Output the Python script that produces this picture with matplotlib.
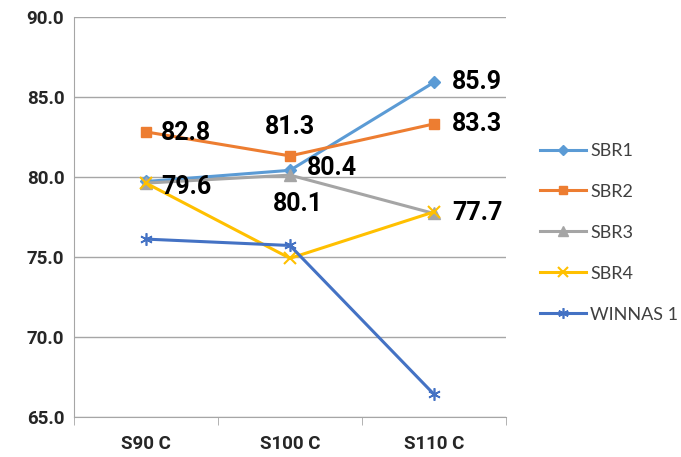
import matplotlib.pyplot as plt
import numpy as np

categories = ['S90 C', 'S100 C', 'S110 C']
sbr1 = [79.7, 80.4, 85.9]
sbr2 = [82.8, 81.3, 83.3]
sbr3 = [79.6, 80.1, 77.7]
sbr4 = [79.6, 74.9, 77.8]
winnas1 = [76.1, 75.7, 66.4]
yticks = [65.0, 70.0, 75.0, 80.0, 85.0, 90.0]

# (text, series, index, dx, dy, ha, va)
labels = [
	('82.8', sbr2, 0, 11, -1, 'left', 'center'),
	('79.6', sbr3, 0, 11, -3, 'left', 'center'),
	('81.3', sbr2, 1, 0, 12, 'center', 'bottom'),
	('80.4', sbr1, 1, 12, 2, 'left', 'center'),
	('80.1', sbr3, 1, 6, -12, 'center', 'top'),
	('85.9', sbr1, 2, 13, 0, 'left', 'center'),
	('83.3', sbr2, 2, 13, 0, 'left', 'center'),
	('77.7', sbr3, 2, 13, 0, 'left', 'center'),
]

plt.rcParams['font.family'] = ['Lato', 'DejaVu Sans']
bold_font = ['Roboto', 'DejaVu Sans']

fig = plt.figure(figsize=(6.81, 4.57), dpi=100)
ax = fig.add_axes([74 / 681, 1 - 416.7 / 457, 432 / 681, 400 / 457])

x = np.arange(len(categories)) + 0.5
ax.plot(x, sbr1, color='#5B9BD5', lw=2.2, marker='D', ms=6, label='SBR1')
ax.plot(x, sbr2, color='#ED7D31', lw=2.2, marker='s', ms=7, label='SBR2')
ax.plot(x, sbr3, color='#A5A5A5', lw=2.2, marker='^', ms=8, label='SBR3')
ax.plot(x, sbr4, color='#FFC000', lw=2.2, marker='x', ms=8, mew=1.5, label='SBR4')
ax.plot(x, winnas1, color='#4472C4', lw=2.2, marker=(6, 2, 0), ms=9, mew=1.2, label='WINNAS 1')

for txt, s, i, dx, dy, ha, va in labels:
	ax.annotate(txt, (x[i], s[i]), xytext=(dx, dy), textcoords='offset points',
				ha=ha, va=va, fontsize=18, fontweight='bold', color='black',
				family=bold_font)

ax.set_xlim(0, 3)
ax.set_ylim(65, 90)
ax.set_yticks(yticks)
ax.set_yticklabels([f'{v:.1f}' for v in yticks], fontsize=13.5, fontweight='bold',
				   family=bold_font, color='#262626')
ax.set_xticks(x)
ax.set_xticklabels(categories, fontsize=13.5, fontweight='bold', family=bold_font,
				   color='#262626')
ax.set_xticks([0, 1, 2, 3], minor=True)
ax.tick_params(axis='x', which='major', length=0, pad=13)
ax.tick_params(axis='x', which='minor', length=6, color='#A6A6A6')
ax.tick_params(axis='y', length=0, pad=7)
ax.yaxis.grid(True, color='#A6A6A6', lw=1)
ax.set_axisbelow(True)
for side in ['top', 'right']:
	ax.spines[side].set_visible(False)
ax.spines['left'].set_color('#A6A6A6')
ax.spines['bottom'].set_color('#A6A6A6')

ax.legend(loc='center left', bbox_to_anchor=(1.04, 0.46), frameon=False,
		  fontsize=13, labelspacing=1.38, handlelength=2.6, handletextpad=0.2,
		  labelcolor='#404040', markerscale=0.85)

fig.savefig('out.png', dpi=100)
